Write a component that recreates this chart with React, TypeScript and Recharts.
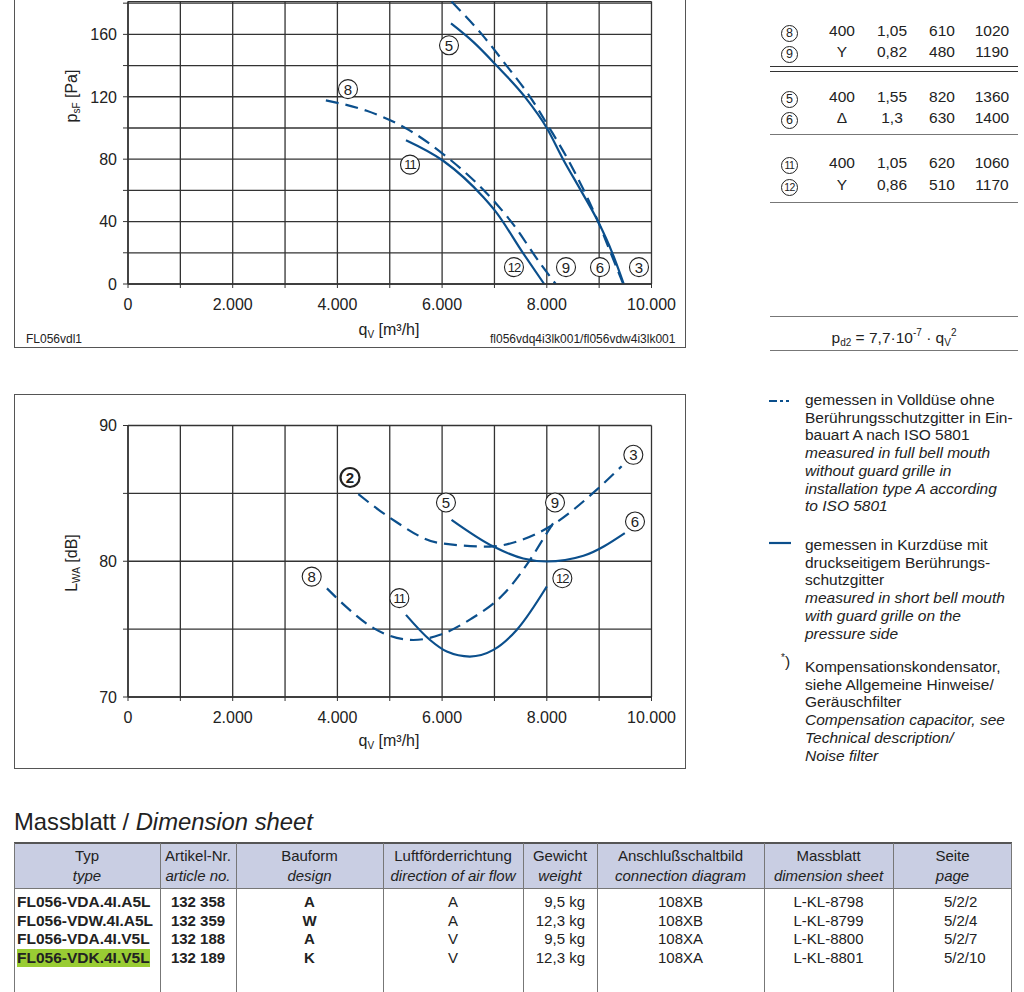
import React from "react";
import { LineChart, Line, XAxis, YAxis, CartesianGrid, ReferenceDot } from "recharts";

const BLUE = "#0b4f8c";
const INK = "#222";
const FONT = '"Liberation Sans", Arial, sans-serif';

// axis ticks
const qTicks = [0, 1000, 2000, 3000, 4000, 5000, 6000, 7000, 8000, 9000, 10000];
const psfTicks = [0, 20, 40, 60, 80, 100, 120, 140, 160, 180];
const lwaTicks = [70, 75, 80, 85, 90];

// pressure curves p_sF [Pa] over q_V [m3/h]
const psf23 = [
  { q: 6180, v: 181 }, { q: 6760, v: 160 }, { q: 7230, v: 140 },
  { q: 7680, v: 120 }, { q: 8050, v: 100 }, { q: 8400, v: 80 }, { q: 8980, v: 40 },
  { q: 9220, v: 20 }, { q: 9460, v: 0 },
];
const psf56 = [
  { q: 6170, v: 167 }, { q: 6600, v: 155 }, { q: 7040, v: 140 }, { q: 7580, v: 120 },
  { q: 8000, v: 100 }, { q: 8310, v: 80 }, { q: 8650, v: 60 }, { q: 8980, v: 40 },
  { q: 9250, v: 20 }, { q: 9470, v: 0 },
];
const psf89 = [
  { q: 3780, v: 117.7 }, { q: 4560, v: 111 }, { q: 5320, v: 99.6 }, { q: 6020, v: 83.3 },
  { q: 6980, v: 53.5 }, { q: 7300, v: 40.8 }, { q: 7900, v: 12 }, { q: 8170, v: 0 },
];
const psf1112 = [
  { q: 5310, v: 92.2 }, { q: 6020, v: 79 }, { q: 6790, v: 55.6 }, { q: 7010, v: 47 },
  { q: 7550, v: 19.6 }, { q: 7950, v: 0 },
];

// sound power curves L_WA [dB]
const lwa23 = [
  { q: 4400, v: 84.94 }, { q: 5005, v: 83.2 }, { q: 5960, v: 81.33 }, { q: 6915, v: 81.08 },
  { q: 7425, v: 81.45 }, { q: 8060, v: 82.56 }, { q: 8950, v: 85.26 }, { q: 9430, v: 87.0 },
];
const lwa56 = [
  { q: 6180, v: 83.05 }, { q: 6980, v: 81.08 }, { q: 7550, v: 80.2 }, { q: 8000, v: 79.98 },
  { q: 8700, v: 80.4 }, { q: 9490, v: 82.07 },
];
const lwa89 = [
  { q: 3800, v: 78.0 }, { q: 4180, v: 76.6 }, { q: 4690, v: 75.07 }, { q: 5450, v: 74.2 },
  { q: 5960, v: 74.58 }, { q: 6530, v: 75.7 }, { q: 7180, v: 77.6 }, { q: 7680, v: 80.1 },
  { q: 8000, v: 82.07 }, { q: 8190, v: 83.2 },
];
const lwa1112 = [
  { q: 5310, v: 76.05 }, { q: 5770, v: 74.2 }, { q: 6090, v: 73.35 }, { q: 6530, v: 72.98 },
  { q: 6980, v: 73.47 }, { q: 7425, v: 74.94 }, { q: 8000, v: 78.14 },
];

// circled curve numbers
const psfBadges = [
  { n: "8", q: 4202, v: 124.9 }, { n: "5", q: 6132, v: 153 }, { n: "11", q: 5387, v: 76.5 },
  { n: "12", q: 7373, v: 10.8 }, { n: "9", q: 8367, v: 10.8 }, { n: "6", q: 9016, v: 10.8 },
  { n: "3", q: 9761, v: 10.8 },
];
const lwaBadges = [
  { n: "2", q: 4241, v: 86.17, bold: true }, { n: "5", q: 6074, v: 84.33 },
  { n: "9", q: 8157, v: 84.33 }, { n: "3", q: 9653, v: 87.84 }, { n: "6", q: 9685, v: 82.93 },
  { n: "12", q: 8297, v: 78.75 }, { n: "8", q: 3509, v: 78.87 }, { n: "11", q: 5183, v: 77.28 },
];

// motor data table (top right)
const motorNo = ["8", "9", "5", "6", "11", "12"];
const motorVolt = ["400", "Y", "400", "Δ", "400", "Y"];
const motorAmp = ["1,05", "0,82", "1,55", "1,3", "1,05", "0,86"];
const motorWatt = ["610", "480", "820", "630", "620", "510"];
const motorRpm = ["1020", "1190", "1360", "1400", "1060", "1170"];
const motorRowY = [31, 52, 97, 118, 163, 185];

// dimension sheet table
const tableHead = [
  ["Typ", "type"], ["Artikel-Nr.", "article no."], ["Bauform", "design"],
  ["Luftförderrichtung", "direction of air flow"], ["Gewicht", "weight"],
  ["Anschlußschaltbild", "connection diagram"], ["Massblatt", "dimension sheet"], ["Seite", "page"],
];
const colEdges = [14, 160, 236, 383, 523, 597, 764, 893, 1012];
const typeNames = ["FL056-VDA.4I.A5L", "FL056-VDW.4I.A5L", "FL056-VDA.4I.V5L", "FL056-VDK.4I.V5L"];
const articleNos = ["132 358", "132 359", "132 188", "132 189"];
const designs = ["A", "W", "A", "K"];
const airFlow = ["A", "A", "V", "V"];
const weights = ["9,5 kg", "12,3 kg", "9,5 kg", "12,3 kg"];
const diagrams = ["108XB", "108XB", "108XA", "108XA"];
const sheets = ["L-KL-8798", "L-KL-8799", "L-KL-8800", "L-KL-8801"];
const pages = ["5/2/2", "5/2/4", "5/2/7", "5/2/10"];

const fmt = (n: number) => String(n).replace(/\B(?=(\d{3})+(?!\d))/g, ".");

const Badge = ({ cx, cy, n, bold }: any) => (
  <g>
    <circle cx={cx} cy={cy} r={9.5} fill="#fff" stroke={INK} strokeWidth={bold ? 2.2 : 1.1} />
    <text
      x={cx}
      y={cy}
      dy="0.36em"
      textAnchor="middle"
      fontSize={n.length > 1 ? 13 : 15}
      letterSpacing={n.length > 1 ? -1 : 0}
      fontWeight={bold ? 700 : 400}
      fill={INK}
      fontFamily={FONT}
    >
      {n}
    </text>
  </g>
);

const makeYTick = (step: number, max: number) => (props: any) => {
  const { x, y, payload } = props;
  if (payload.value % step !== 0 || payload.value > max) return <g />;
  return (
    <text x={x} y={y} dy="0.36em" textAnchor="end" fontSize={16} fill={INK} fontFamily={FONT}>
      {payload.value}
    </text>
  );
};

const XTick = (props: any) => {
  const { x, y, payload } = props;
  if (payload.value % 2000 !== 0) return <g />;
  return (
    <text x={x} y={y + 20} textAnchor="middle" fontSize={16} fill={INK} fontFamily={FONT}>
      {fmt(payload.value)}
    </text>
  );
};

const Circ = ({ n }: { n: string }) => (
  <span
    style={{
      display: "inline-flex",
      width: 15,
      height: 15,
      borderRadius: "50%",
      border: "1px solid #222",
      alignItems: "center",
      justifyContent: "center",
      fontSize: n.length > 1 ? 10.5 : 12.5,
      letterSpacing: n.length > 1 ? -0.5 : 0,
      lineHeight: 1,
    }}
  >
    {n}
  </span>
);

const abs = (left: number, top: number, extra: React.CSSProperties = {}): React.CSSProperties => ({
  position: "absolute",
  left,
  top,
  ...extra,
});

const frame = (top: number, height: number): React.CSSProperties => ({
  position: "absolute",
  left: 14,
  top,
  width: 672,
  height,
  border: "1.5px solid #555",
  boxSizing: "border-box",
});

const lineProps = { type: "monotone" as const, dataKey: "v", stroke: BLUE, strokeWidth: 2.2, dot: false, isAnimationActive: false };
const DASH = "13 7";

const hline = (top: number, color = "#777", h = 1) => (
  <div style={abs(770, top, { width: 248, height: h, background: color })} />
);

const legendText = (top: number, lines: [string, boolean][]) => (
  <div style={abs(805, top, { fontSize: 15.5, lineHeight: "17.7px", color: INK, whiteSpace: "nowrap" })}>
    {lines.map(([t, it], i) => (
      <div key={i} style={{ fontStyle: it ? "italic" : "normal" }}>
        {t}
      </div>
    ))}
  </div>
);

export default function App() {
  return (
    <div style={abs(0, 0, { width: 1024, height: 992, overflow: "hidden", fontFamily: FONT, color: INK, background: "#fff" })}>
      {/* pressure chart, its upper part lies above the page */}
      <div style={frame(-60, 408)} />
      <div style={abs(14, -60)}>
        <LineChart width={672} height={408} margin={{ top: 61.6, right: 34.5, bottom: 34, left: 0 }}>
          <CartesianGrid stroke="#333" strokeWidth={1.3} />
          <XAxis
            type="number"
            dataKey="q"
            domain={[0, 10000]}
            ticks={qTicks}
            tick={<XTick />}
            tickSize={4}
            tickMargin={2}
            height={30}
            axisLine={{ stroke: "#333", strokeWidth: 1.5 }}
            tickLine={{ stroke: "#333" }}
            interval={0}
          />
          <YAxis
            type="number"
            domain={[0, 180]}
            ticks={psfTicks}
            tick={makeYTick(40, 160)}
            tickSize={5}
            tickMargin={6}
            width={114}
            axisLine={{ stroke: "#333", strokeWidth: 1.5 }}
            tickLine={{ stroke: "#333" }}
            interval={0}
          />
          <Line {...lineProps} data={psf23} strokeDasharray={DASH} />
          <Line {...lineProps} data={psf56} />
          <Line {...lineProps} data={psf89} strokeDasharray={DASH} />
          <Line {...lineProps} data={psf1112} />
          {psfBadges.map((b) => (
            <ReferenceDot
              key={"p" + b.n}
              x={b.q}
              y={b.v}
              ifOverflow="visible"
              shape={(p: any) => <Badge cx={p.cx} cy={p.cy} n={b.n} />}
            />
          ))}
        </LineChart>
      </div>
      <div style={abs(72, 96, { transform: "translate(-50%,-50%) rotate(-90deg)", fontSize: 16, whiteSpace: "nowrap" })}>
        p<span style={{ fontSize: 10, verticalAlign: -3 }}>sF</span> [Pa]
      </div>
      <div style={abs(389, 330, { transform: "translate(-50%,-50%)", fontSize: 16, whiteSpace: "nowrap" })}>
        q<span style={{ fontSize: 10, verticalAlign: -3 }}>V</span> [m³/h]
      </div>
      <div style={abs(26, 332, { fontSize: 12 })}>FL056vdl1</div>
      <div style={abs(490, 332, { fontSize: 12 })}>fl056vdq4i3lk001/fl056vdw4i3lk001</div>

      {/* motor data */}
      {motorNo.map((n, i) => (
        <div key={n} style={abs(770, motorRowY[i] - 10, { width: 248, height: 20, fontSize: 15.5 })}>
          <div style={abs(11, 2)}>
            <Circ n={n} />
          </div>
          {[motorVolt[i], motorAmp[i], motorWatt[i], motorRpm[i]].map((t, j) => (
            <div key={j} style={abs(47 + j * 50, 0, { width: 50, textAlign: "center", lineHeight: "20px" })}>
              {t}
            </div>
          ))}
        </div>
      ))}
      {hline(66, "#333", 1.4)}
      {hline(70.5, "#333", 1.4)}
      {hline(134)}
      {hline(202)}
      {hline(315.5)}
      {hline(350)}
      <div style={abs(894, 337, { transform: "translate(-50%,-50%)", fontSize: 15.5, whiteSpace: "nowrap" })}>
        p<span style={{ fontSize: 10, verticalAlign: -3 }}>d2</span> = 7,7·10
        <span style={{ fontSize: 10, verticalAlign: 7 }}>-7</span> · q
        <span style={{ fontSize: 10, verticalAlign: -3 }}>V</span>
        <span style={{ fontSize: 10, verticalAlign: 7 }}>2</span>
      </div>

      {/* sound chart */}
      <div style={frame(394, 375)} />
      <div style={abs(14, 394)}>
        <LineChart width={672} height={375} margin={{ top: 31.5, right: 34.5, bottom: 42, left: 0 }}>
          <CartesianGrid stroke="#333" strokeWidth={1.3} />
          <XAxis
            type="number"
            dataKey="q"
            domain={[0, 10000]}
            ticks={qTicks}
            tick={<XTick />}
            tickSize={4}
            tickMargin={2}
            height={30}
            axisLine={{ stroke: "#333", strokeWidth: 1.5 }}
            tickLine={{ stroke: "#333" }}
            interval={0}
          />
          <YAxis
            type="number"
            domain={[70, 90]}
            ticks={lwaTicks}
            tick={makeYTick(10, 90)}
            tickSize={5}
            tickMargin={6}
            width={114}
            axisLine={{ stroke: "#333", strokeWidth: 1.5 }}
            tickLine={{ stroke: "#333" }}
            interval={0}
          />
          <Line {...lineProps} data={lwa23} strokeDasharray={DASH} />
          <Line {...lineProps} data={lwa56} />
          <Line {...lineProps} data={lwa89} strokeDasharray={DASH} />
          <Line {...lineProps} data={lwa1112} />
          {lwaBadges.map((b) => (
            <ReferenceDot
              key={"l" + b.n}
              x={b.q}
              y={b.v}
              ifOverflow="visible"
              shape={(p: any) => <Badge cx={p.cx} cy={p.cy} n={b.n} bold={b.bold} />}
            />
          ))}
        </LineChart>
      </div>
      <div style={abs(72, 563, { transform: "translate(-50%,-50%) rotate(-90deg)", fontSize: 16, whiteSpace: "nowrap" })}>
        L<span style={{ fontSize: 10, verticalAlign: -3 }}>WA</span> [dB]
      </div>
      <div style={abs(389, 741, { transform: "translate(-50%,-50%)", fontSize: 16, whiteSpace: "nowrap" })}>
        q<span style={{ fontSize: 10, verticalAlign: -3 }}>V</span> [m³/h]
      </div>

      {/* legend */}
      <svg style={abs(768, 396)} width={24} height={10}>
        <line x1={1} y1={5} x2={23} y2={5} stroke={BLUE} strokeWidth={2.2} strokeDasharray="8 3 3 3 3" />
      </svg>
      {legendText(391, [
        ["gemessen in Volldüse ohne", false],
        ["Berührungsschutzgitter in Ein-", false],
        ["bauart A nach ISO 5801", false],
        ["measured in full bell mouth", true],
        ["without guard grille in", true],
        ["installation type A according", true],
        ["to ISO 5801", true],
      ])}
      <svg style={abs(768, 538)} width={24} height={10}>
        <line x1={1} y1={5} x2={23} y2={5} stroke={BLUE} strokeWidth={2.2} />
      </svg>
      {legendText(536, [
        ["gemessen in Kurzdüse mit", false],
        ["druckseitigem Berührungs-", false],
        ["schutzgitter", false],
        ["measured in short bell mouth", true],
        ["with guard grille on the", true],
        ["pressure side", true],
      ])}
      <div style={abs(781, 652, { fontSize: 15.5 })}>
        <sup style={{ fontSize: 10 }}>*</sup>)
      </div>
      {legendText(658, [
        ["Kompensationskondensator,", false],
        ["siehe Allgemeine Hinweise/", false],
        ["Geräuschfilter", false],
        ["Compensation capacitor, see", true],
        ["Technical description/", true],
        ["Noise filter", true],
      ])}

      {/* dimension sheet */}
      <div style={abs(14, 808, { fontSize: 23.8, whiteSpace: "nowrap" })}>
        Massblatt / <span style={{ fontStyle: "italic" }}>Dimension sheet</span>
      </div>
      <div style={abs(14, 842, { width: 998, height: 47, background: "#c9cee3", borderTop: "2px solid #555", borderBottom: "1px solid #777", boxSizing: "border-box" })} />
      {colEdges.map((x) => (
        <div key={x} style={abs(x === 1012 ? 1011 : x, 843, { width: 1, height: 160, background: "#777" })} />
      ))}
      {tableHead.map(([de, en], i) => (
        <div
          key={de}
          style={abs(colEdges[i], 846, { width: colEdges[i + 1] - colEdges[i], textAlign: "center", fontSize: 15, lineHeight: "20px", whiteSpace: "nowrap" })}
        >
          <div>{de}</div>
          <div style={{ fontStyle: "italic" }}>{en}</div>
        </div>
      ))}
      {typeNames.map((t, r) => {
        const top = 893 + r * 18.5;
        const cell = (i: number, text: string, style: React.CSSProperties = {}) => (
          <div
            style={abs(colEdges[i], top, {
              width: colEdges[i + 1] - colEdges[i],
              textAlign: "center",
              fontSize: 15,
              lineHeight: "18px",
              whiteSpace: "nowrap",
              ...style,
            })}
          >
            {text}
          </div>
        );
        return (
          <React.Fragment key={t}>
            <div style={abs(17, top, { fontSize: 15.5, fontWeight: 700, lineHeight: "18px", whiteSpace: "nowrap", background: r === 3 ? "#99cc33" : "transparent" })}>
              {t}
            </div>
            {cell(1, articleNos[r], { fontWeight: 700 })}
            {cell(2, designs[r], { fontWeight: 700 })}
            {cell(3, airFlow[r])}
            {cell(4, weights[r], { textAlign: "right", width: 62 })}
            {cell(5, diagrams[r])}
            {cell(6, sheets[r])}
            {cell(7, pages[r], { textAlign: "left", paddingLeft: 51 })}
          </React.Fragment>
        );
      })}
    </div>
  );
}
